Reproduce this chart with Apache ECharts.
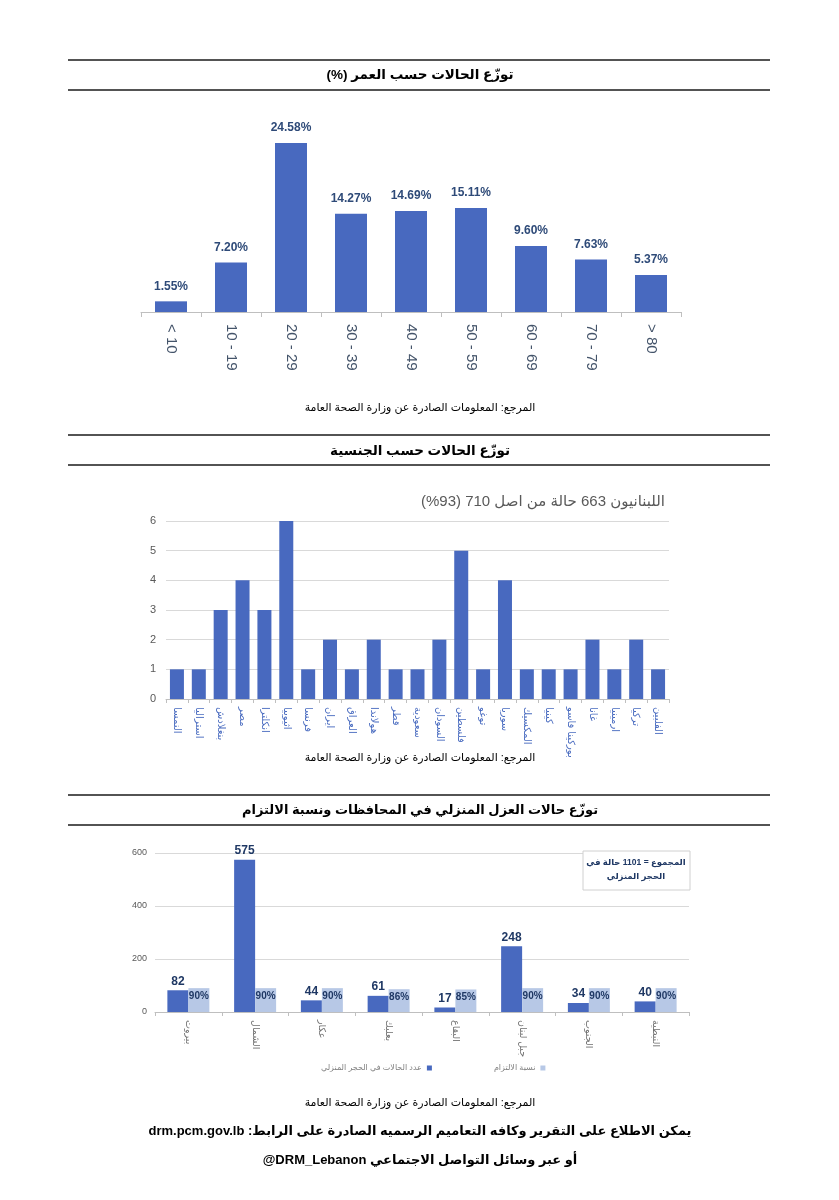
<!DOCTYPE html>
<html>
<head>
<meta charset="utf-8">
<script src="https://cdn.jsdelivr.net/npm/echarts@6/dist/echarts.min.js"></script>
<style>
html,body{margin:0;padding:0;background:#fff;}
#main{width:839px;height:1200px;}
</style>
</head>
<body>
<div id="main"></div>
<script>
// ---------- DATA ----------
const ageCategories = ['< 10', '10 - 19', '20 - 29', '30 - 39', '40 - 49', '50 - 59', '60 - 69', '70 - 79', '> 80'];
const agePercent = [1.55, 7.20, 24.58, 14.27, 14.69, 15.11, 9.60, 7.63, 5.37];

const nationalities = ['النمسا', 'استراليا', 'بنغلادش', 'مصر', 'انكلترا', 'اثيوبيا', 'فرنسا', 'ايران', 'العراق', 'هولاندا', 'قطر', 'سعودية', 'السودان', 'فلسطين', 'توغو', 'سوريا', 'المكسيك', 'كينيا', 'بوركينا فاسو', 'غانا', 'ارمينيا', 'تركيا', 'الفلبين'];
const nationalityCases = [1, 1, 3, 4, 3, 6, 1, 2, 1, 2, 1, 1, 2, 5, 1, 4, 1, 1, 1, 2, 1, 2, 1];
const nationalityTicks = [0, 1, 2, 3, 4, 5, 6];

const governorates = ['بيروت', 'الشمال', 'عكار', 'بعلبك', 'البقاع', 'جبل لبنان', 'الجنوب', 'النبطية'];
const homeIsolation = [82, 575, 44, 61, 17, 248, 34, 40];
const compliance = [90, 90, 90, 86, 85, 90, 90, 90];
const isolationTicks = [0, 200, 400, 600];

const seriesNames = ['عدد الحالات في الحجر المنزلي', 'نسبة الالتزام'];

const titleAge = 'توزّع الحالات حسب العمر (%)';
const titleNationality = 'توزّع الحالات حسب الجنسية';
const titleIsolation = 'توزّع حالات العزل المنزلي في المحافظات ونسبة الالتزام';
const subtitleNationality = 'اللبنانيون 663 حالة من اصل 710 (93%)';
const sourceText = 'المرجع: المعلومات الصادرة عن وزارة الصحة العامة';
const totalBox1 = 'المجموع = 1101 حالة في';
const totalBox2 = 'الحجر المنزلي';
const footer1 = 'يمكن الاطلاع على التقرير وكافه التعاميم الرسميه الصادرة على الرابط: drm.pcm.gov.lb';
const footer2 = 'أو عبر وسائل التواصل الاجتماعي \u2066@DRM_Lebanon\u2069';

// ---------- HELPERS ----------
const FONT = "'Liberation Sans', 'DejaVu Sans', Arial, sans-serif";
const rtl = s => '\u202B' + s + '\u202C';
const BLUE = '#4869BF';
const LIGHT = '#B7C8E6';

function hLine(y) {
  return { type: 'line', shape: { x1: 68, y1: y, x2: 770, y2: y }, style: { stroke: '#1a1a1a', lineWidth: 1.3 }, silent: true };
}
function txt(x, y, text, size, weight, color) {
  return { type: 'text', x: x, y: y, z: 100, silent: true,
    style: { text: rtl(text), fontSize: size, fontWeight: weight || 'normal', fontFamily: FONT, fill: color || '#000', align: 'center', verticalAlign: 'middle' } };
}

const chart = echarts.init(document.getElementById('main'), null, { renderer: 'canvas' });

const option = {
  backgroundColor: '#ffffff',
  animation: false,
  textStyle: { fontFamily: FONT },
  grid: [
    { left: 141, right: 158, top: 140, bottom: 888 },
    { left: 166, right: 170, top: 521, bottom: 501 },
    { left: 155, right: 150, top: 853, bottom: 188 }
  ],
  xAxis: [
    { gridIndex: 0, type: 'category', data: ageCategories,
      axisLine: { lineStyle: { color: '#BFBFBF' } },
      axisTick: { show: true, length: 5, lineStyle: { color: '#BFBFBF' } },
      axisLabel: { rotate: -90, margin: 12, fontSize: 15, color: '#44546A', fontFamily: FONT } },
    { gridIndex: 1, type: 'category', data: nationalities,
      axisLine: { lineStyle: { color: '#BFBFBF' } },
      axisTick: { show: true, length: 4, lineStyle: { color: '#BFBFBF' } },
      axisLabel: { rotate: -90, margin: 8, fontSize: 10, color: '#4A6CC0', fontFamily: FONT, interval: 0 } },
    { gridIndex: 2, type: 'category', data: governorates,
      axisLine: { lineStyle: { color: '#BFBFBF' } },
      axisTick: { show: true, length: 4, lineStyle: { color: '#BFBFBF' } },
      axisLabel: { rotate: -90, margin: 8, fontSize: 9.5, color: '#6F6F6F', fontFamily: FONT, interval: 0 } }
  ],
  yAxis: [
    { gridIndex: 0, type: 'value', min: 0, max: 25, show: false },
    { gridIndex: 1, type: 'value', min: nationalityTicks[0], max: nationalityTicks[nationalityTicks.length - 1], interval: 1,
      axisLine: { show: false }, axisTick: { show: false },
      axisLabel: { fontSize: 11, color: '#595959', margin: 10 },
      splitLine: { lineStyle: { color: '#D9D9D9' } } },
    { gridIndex: 2, type: 'value', min: isolationTicks[0], max: isolationTicks[isolationTicks.length - 1], interval: 200,
      axisLine: { show: false }, axisTick: { show: false },
      axisLabel: { fontSize: 9, color: '#595959', margin: 8 },
      splitLine: { lineStyle: { color: '#D9D9D9' } } }
  ],
  legend: {
    data: seriesNames,
    left: 316, top: 1059,
    align: 'right',
    itemWidth: 5, itemHeight: 5, itemGap: 62,
    icon: 'rect',
    textStyle: { fontSize: 8, color: '#7F7F7F', fontFamily: FONT, padding: [0, 0, 0, 0] }
  },
  series: [
    { type: 'bar', xAxisIndex: 0, yAxisIndex: 0, data: agePercent, barWidth: 32,
      itemStyle: { color: BLUE },
      label: { show: true, position: 'top', distance: 9, fontSize: 12, fontWeight: 'bold', color: '#2E4A78',
        formatter: p => p.value.toFixed(2) + '%' } },
    { type: 'bar', xAxisIndex: 1, yAxisIndex: 1, data: nationalityCases, barWidth: 14,
      itemStyle: { color: BLUE } },
    { name: seriesNames[0], type: 'bar', xAxisIndex: 2, yAxisIndex: 2, data: homeIsolation, barWidth: 21, barGap: '0%',
      itemStyle: { color: BLUE },
      label: { show: true, position: 'top', distance: 3, fontSize: 12, fontWeight: 'bold', color: '#1F3864' } },
    { name: seriesNames[1], type: 'bar', xAxisIndex: 2, yAxisIndex: 2, data: compliance, barWidth: 21, barGap: '0%',
      itemStyle: { color: LIGHT },
      label: { show: true, position: 'insideTop', distance: 3, fontSize: 10, fontWeight: 'bold', color: '#1F3864',
        formatter: p => p.value + '%' } }
  ],
  graphic: [
    hLine(60), hLine(90),
    txt(420, 75, titleAge, 13.5, 'bold'),
    txt(420, 408, sourceText, 11, 'normal'),
    hLine(435), hLine(465),
    txt(420, 451, titleNationality, 13.5, 'bold'),
    { type: 'text', x: 665, y: 502, z: 100, silent: true,
      style: { text: rtl(subtitleNationality), fontSize: 15, fontFamily: FONT, fill: '#595959', align: 'right', verticalAlign: 'middle' } },
    txt(420, 758, sourceText, 11, 'normal'),
    hLine(795), hLine(825),
    txt(420, 810, titleIsolation, 13, 'bold'),
    { type: 'rect', z: 90, silent: true, shape: { x: 583, y: 851, width: 107, height: 39 },
      style: { fill: '#ffffff', stroke: '#D0D0D0', lineWidth: 1 } },
    txt(636, 863, totalBox1, 8.5, 'bold', '#1F3864'),
    txt(636, 877, totalBox2, 8.5, 'bold', '#1F3864'),
    txt(420, 1103, sourceText, 11, 'normal'),
    txt(420, 1131, footer1, 13, 'bold'),
    txt(420, 1160, footer2, 13, 'bold')
  ]
};
chart.setOption(option);
</script>
</body>
</html>
